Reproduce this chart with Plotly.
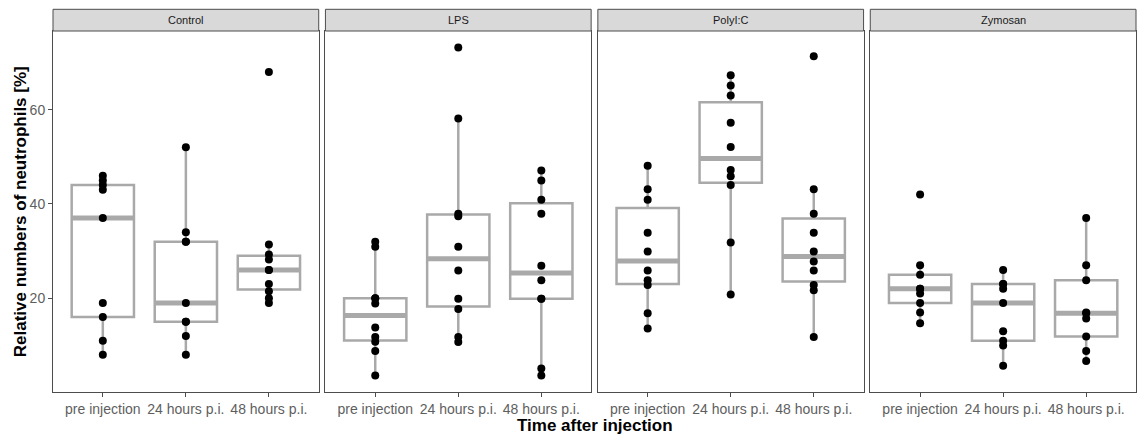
import numpy as np
import plotly.graph_objects as go

# ---------------- data ----------------
categories = ["pre injection", "24 hours p.i.", "48 hours p.i."]
treatments = ["Control", "LPS", "PolyI:C", "Zymosan"]

control_pre = [46, 45, 44, 43, 37, 19, 16, 11, 8]
control_24h = [52, 34, 32, 32, 19, 15, 15, 12, 8]
control_48h = [68, 31.4, 29.3, 28.2, 26, 26, 23, 21.5, 20, 19]

lps_pre = [32, 30.9, 20, 20, 18.9, 13.8, 11.8, 10.8, 8.8, 3.6]
lps_24h = [73.2, 58.1, 37.9, 37.4, 30.9, 25.9, 19.9, 17.7, 11.8, 10.7]
lps_48h = [47.1, 45, 40.9, 37.9, 26.9, 23.8, 19.9, 19.9, 5.1, 3.6]

polyic_pre = [48.1, 43.1, 40.9, 33.9, 29.9, 25.9, 23.8, 22.8, 16.8, 13.6]
polyic_24h = [67.3, 65.1, 63.0, 57.2, 52.1, 47.2, 45.9, 44.0, 31.8, 20.8]
polyic_48h = [71.3, 43.1, 37.9, 33.9, 29.9, 27.8, 25.9, 22.8, 21.7, 11.8]

zymosan_pre = [42, 27, 25, 22, 22, 21, 19, 17, 14.7]
zymosan_24h = [26, 23, 23, 22, 19, 13, 11, 10, 5.7]
zymosan_48h = [37, 27, 23.8, 17, 16.8, 15.7, 11.9, 8.8, 6.7]

y_ticks = [20, 40, 60]

data = {
    "Control": [control_pre, control_24h, control_48h],
    "LPS": [lps_pre, lps_24h, lps_48h],
    "PolyI:C": [polyic_pre, polyic_24h, polyic_48h],
    "Zymosan": [zymosan_pre, zymosan_24h, zymosan_48h],
}

# ---------------- style ----------------
W, H = 1143, 435
ML, MR, MT, MB = 53, 7, 31, 43
PLOT_W = W - ML - MR
PLOT_H = H - MT - MB
GAP = 6.7 / PLOT_W
PW = (1 - 3 * GAP) / 4
STRIP_H = 21.7 / PLOT_H
BOX_W = 0.75
GREY = "#A9A9A9"
FRAME = "#4D4D4D"
FONT = "Liberation Sans, Arial, sans-serif"

all_vals = np.concatenate([np.array(v, float) for t in treatments for v in data[t]])
ymin, ymax = all_vals.min(), all_vals.max()
pad = 0.05 * (ymax - ymin)
yrange = [ymin - pad, ymax + pad]

fig = go.Figure()
layout = dict(
    width=W, height=H,
    margin=dict(l=ML, r=MR, t=MT, b=MB, autoexpand=False),
    paper_bgcolor="white", plot_bgcolor="white",
    showlegend=False, boxmode="overlay",
    font=dict(family=FONT),
    shapes=[], annotations=[],
)

for i, t in enumerate(treatments):
    k = "" if i == 0 else str(i + 1)
    xa, ya = "x" + k, "y" + k
    d0 = i * (PW + GAP)
    d1 = d0 + PW
    for j, vals in enumerate(data[t]):
        v = np.array(vals, float)
        q1, med, q3 = np.percentile(v, [25, 50, 75])
        iqr = q3 - q1
        lo = v[v >= q1 - 1.5 * iqr].min()
        hi = v[v <= q3 + 1.5 * iqr].max()
        pos = j + 1
        fig.add_trace(go.Box(
            x=[pos], q1=[q1], median=[med], q3=[q3],
            lowerfence=[lo], upperfence=[hi],
            width=BOX_W, whiskerwidth=0, boxpoints=False,
            line=dict(color=GREY, width=2.5), fillcolor="rgba(0,0,0,0)",
            xaxis=xa, yaxis=ya, hoverinfo="skip", showlegend=False,
        ))
        fig.add_trace(go.Scatter(
            x=[pos - BOX_W / 2, pos + BOX_W / 2], y=[med, med],
            mode="lines", line=dict(color=GREY, width=5),
            xaxis=xa, yaxis=ya, hoverinfo="skip", showlegend=False,
        ))
        fig.add_trace(go.Scatter(
            x=[pos] * len(v), y=v, mode="markers",
            marker=dict(color="black", size=8),
            xaxis=xa, yaxis=ya, showlegend=False,
        ))

    layout["xaxis" + k] = dict(
        domain=[d0, d1], range=[0.4, 3.6], anchor=ya, automargin=False,
        tickvals=[1, 2, 3], ticktext=categories,
        showline=True, mirror=True, linecolor=FRAME, linewidth=1,
        ticks="outside", ticklen=4, tickcolor=FRAME,
        showgrid=False, zeroline=False,
        tickfont=dict(size=14, color="#5E5E5E", family=FONT),
    )
    layout["yaxis" + k] = dict(
        domain=[0, 1], range=yrange, anchor=xa, automargin=False,
        tickvals=y_ticks, showticklabels=(i == 0),
        ticks="outside" if i == 0 else "", ticklen=4, tickcolor=FRAME,
        showline=True, mirror=True, linecolor=FRAME, linewidth=1,
        showgrid=False, zeroline=False,
        tickfont=dict(size=14, color="#5E5E5E", family=FONT),
    )
    layout["shapes"].append(dict(
        type="rect", xref="paper", yref="paper",
        x0=d0, x1=d1, y0=1, y1=1 + STRIP_H,
        fillcolor="#D9D9D9", line=dict(color=FRAME, width=1),
    ))
    layout["annotations"].append(dict(
        text=t, xref="paper", yref="paper",
        x=(d0 + d1) / 2, y=1 + STRIP_H / 2,
        xanchor="center", yanchor="middle", showarrow=False,
        font=dict(size=11, color="#1A1A1A", family=FONT),
    ))

layout["annotations"].append(dict(
    text="<b>Relative numbers of neutrophils [%]</b>",
    xref="paper", yref="paper", x=-(ML - 20.7) / PLOT_W, y=0.5,
    xanchor="center", yanchor="middle", textangle=-90, showarrow=False,
    font=dict(size=17, color="black", family=FONT),
))
layout["annotations"].append(dict(
    text="<b>Time after injection</b>",
    xref="paper", yref="paper", x=0.5, y=-(425 - (H - MB)) / PLOT_H,
    xanchor="center", yanchor="middle", showarrow=False,
    font=dict(size=17, color="black", family=FONT),
))

fig.update_layout(**layout)
fig.write_html(
    "out.html",
    config={"displayModeBar": False},
    post_script="document.body.style.margin='0';document.body.style.overflow='hidden';",
)
